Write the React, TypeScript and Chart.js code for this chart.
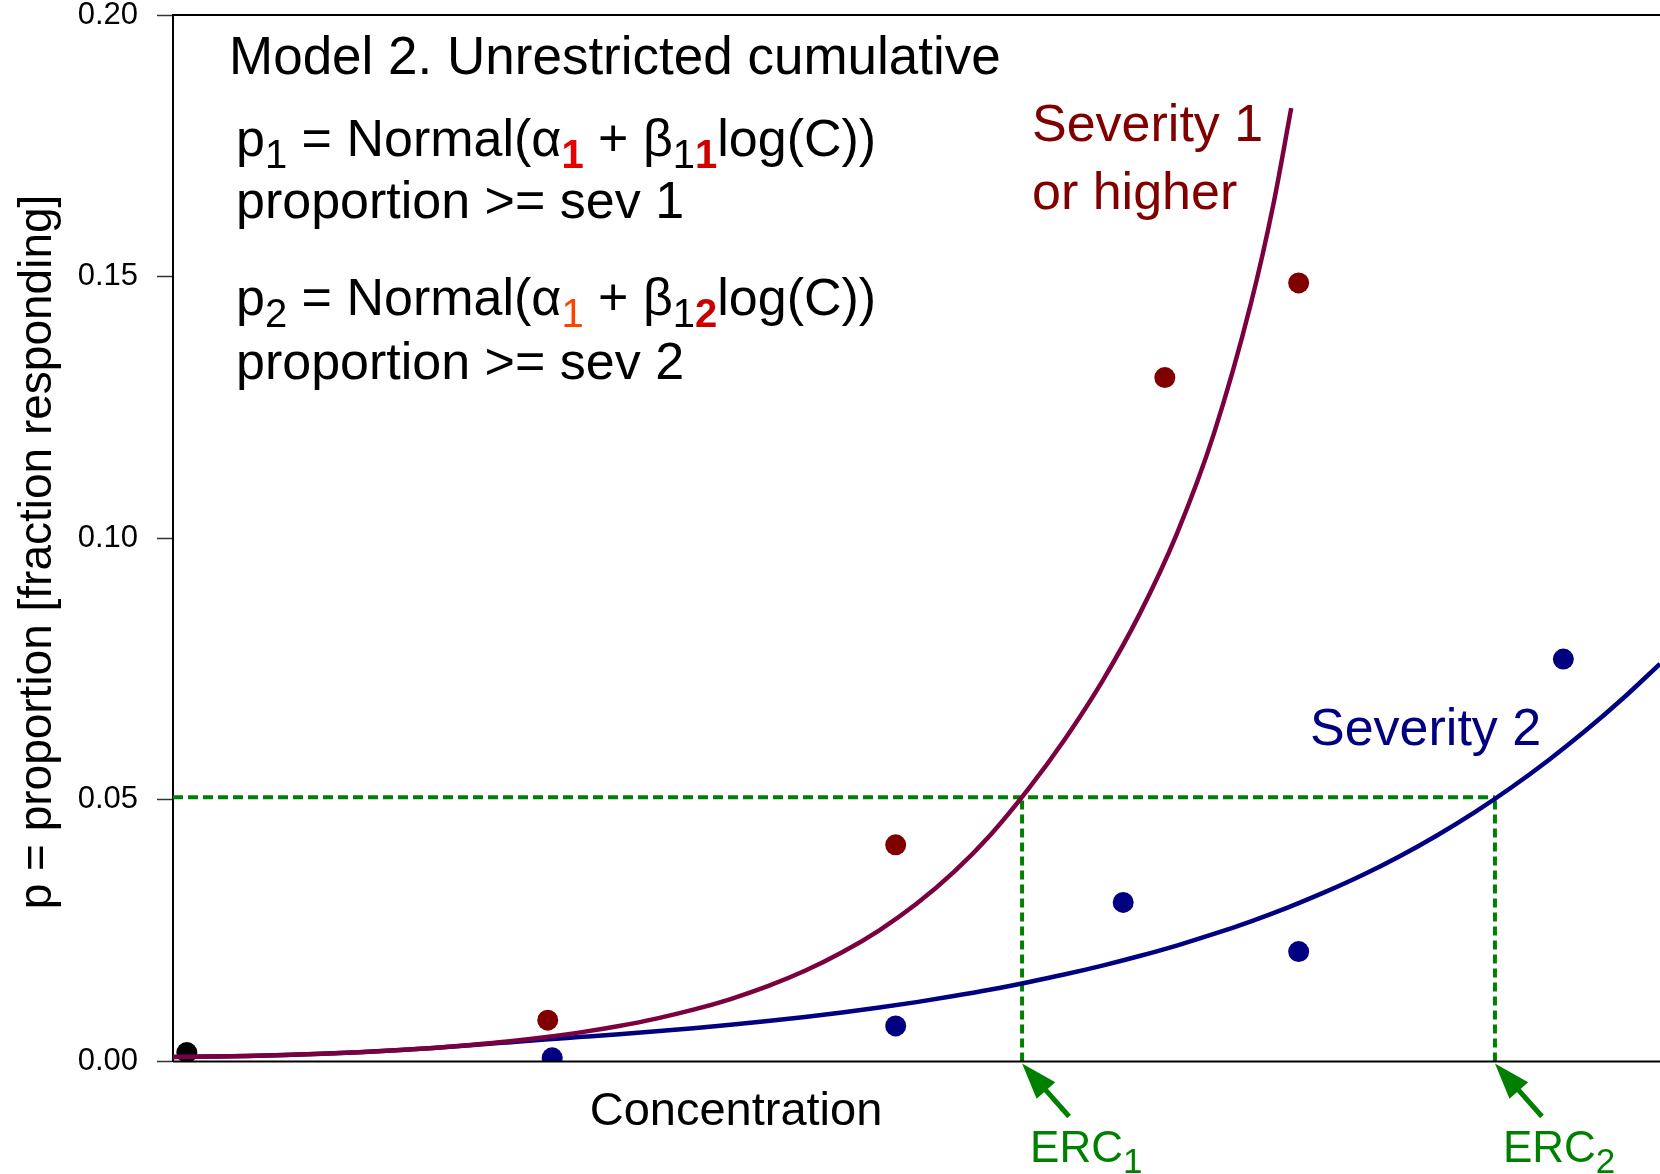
import React, { useEffect, useRef } from 'react';
import { Chart, registerables } from 'chart.js';

Chart.register(...registerables);

const FONT = '"Liberation Sans", Arial, Helvetica, sans-serif';

// ---- data ----
const yTickValues = [0, 0.05, 0.1, 0.15, 0.2];
const xMin = 0;
const xMax = 100;
const threshold = 0.0505;
const ercX = [57.1, 88.9];

// fitted curve: severity 1 or higher
const sev1CurveX = [0, 2.5, 5, 7.5, 10, 12.5, 15, 17.5, 20, 22.5, 25, 27.5, 30, 32.5, 35, 37.5, 40, 42.5, 45, 47.5, 50, 52.5, 55, 57.5, 60, 62.5, 65, 67.5, 70, 72.5, 74, 75.2];
const sev1CurveP = [0.00086, 0.00095, 0.00106, 0.00122, 0.00147, 0.00178, 0.00214, 0.0026, 0.00316, 0.00383, 0.00464, 0.00561, 0.00679, 0.0082, 0.0099, 0.01194, 0.01439, 0.01733, 0.02086, 0.02508, 0.03013, 0.03618, 0.0434, 0.052, 0.0617, 0.0727, 0.0855, 0.1008, 0.12, 0.145, 0.1638, 0.1822];

// fitted curve: severity 2
const sev2CurveX = [0, 2.5, 5, 7.5, 10, 12.5, 15, 17.5, 20, 22.5, 25, 27.5, 30, 32.5, 35, 37.5, 40, 42.5, 45, 47.5, 50, 52.5, 55, 57.5, 60, 62.5, 65, 67.5, 70, 72.5, 75, 77.5, 80, 82.5, 85, 87.5, 90, 92.5, 95, 97.5, 100];
const sev2CurveP = [0.00086, 0.00095, 0.00106, 0.00122, 0.00147, 0.00178, 0.00214, 0.0026, 0.00311, 0.00365, 0.0042, 0.00471, 0.00523, 0.00578, 0.00637, 0.00702, 0.00773, 0.00851, 0.00937, 0.01031, 0.01135, 0.0125, 0.01376, 0.01516, 0.01667, 0.01833, 0.02016, 0.02216, 0.02437, 0.0268, 0.02947, 0.03241, 0.03564, 0.03924, 0.0432, 0.04756, 0.05236, 0.05758, 0.06324, 0.06937, 0.076];

// observed proportions
const controlX = [0.93];
const controlP = [0.0017];
const sev1ObsX = [25.2, 48.6, 66.7, 75.7];
const sev1ObsP = [0.0079, 0.0414, 0.1307, 0.1488];
const sev2ObsX = [25.5, 48.6, 63.9, 75.7, 93.5];
const sev2ObsP = [0.0007, 0.0068, 0.0304, 0.021, 0.0769];

const toXY = (xs: number[], ys: number[]) => xs.map((x, i) => ({ x, y: ys[i] }));

type Run = { text: string; size: number; color?: string; bold?: boolean; dy?: number };

function drawRuns(ctx: CanvasRenderingContext2D, x: number, y: number, runs: Run[]) {
  let cx = x;
  for (const r of runs) {
    ctx.font = `${r.bold ? 'bold ' : ''}${r.size}px ${FONT}`;
    ctx.fillStyle = r.color || '#000';
    ctx.fillText(r.text, cx, y + (r.dy || 0));
    cx += ctx.measureText(r.text).width;
  }
}

function drawArrow(ctx: CanvasRenderingContext2D, tipX: number, tipY: number, dx: number, dy: number, color: string) {
  const len = Math.hypot(dx, dy);
  const ux = dx / len;
  const uy = dy / len;
  const headLen = 36;
  const headHalf = 12.5;
  const bx = tipX + ux * headLen;
  const by = tipY + uy * headLen;
  ctx.save();
  ctx.strokeStyle = color;
  ctx.fillStyle = color;
  ctx.lineWidth = 5;
  ctx.lineCap = 'butt';
  ctx.beginPath();
  ctx.moveTo(bx - ux * 4, by - uy * 4);
  ctx.lineTo(tipX + dx, tipY + dy);
  ctx.stroke();
  ctx.beginPath();
  ctx.moveTo(tipX, tipY);
  ctx.lineTo(bx - uy * headHalf, by + ux * headHalf);
  ctx.lineTo(bx + uy * headHalf, by - ux * headHalf);
  ctx.closePath();
  ctx.fill();
  ctx.restore();
}

const annotations = {
  id: 'annotations',
  afterDraw(chart: any) {
    const ctx: CanvasRenderingContext2D = chart.ctx;
    const { left, right, top, bottom } = chart.chartArea;
    const xs = chart.scales.x;
    ctx.save();
    // frame lines (top and bottom)
    ctx.strokeStyle = '#000';
    ctx.lineWidth = 2;
    ctx.beginPath();
    ctx.moveTo(left, top);
    ctx.lineTo(right, top);
    ctx.moveTo(left, bottom);
    ctx.lineTo(right, bottom);
    ctx.stroke();

    ctx.textAlign = 'left';
    ctx.textBaseline = 'alphabetic';

    // title block
    drawRuns(ctx, 229, 74, [{ text: 'Model 2. Unrestricted cumulative', size: 53 }]);
    drawRuns(ctx, 236, 156, [
      { text: 'p', size: 52 },
      { text: '1', size: 40, dy: 12 },
      { text: ' = Normal(\u03b1', size: 52 },
      { text: '1', size: 40, dy: 12, bold: true, color: '#e80000' },
      { text: ' + \u03b2', size: 52 },
      { text: '1', size: 40, dy: 12 },
      { text: '1', size: 40, dy: 12, bold: true, color: '#d00000' },
      { text: 'log(C))', size: 52 },
    ]);
    drawRuns(ctx, 236, 218, [{ text: 'proportion >= sev 1', size: 52 }]);
    drawRuns(ctx, 236, 315, [
      { text: 'p', size: 52 },
      { text: '2', size: 40, dy: 12 },
      { text: ' = Normal(\u03b1', size: 52 },
      { text: '1', size: 40, dy: 12, color: '#ff4400' },
      { text: ' + \u03b2', size: 52 },
      { text: '1', size: 40, dy: 12 },
      { text: '2', size: 40, dy: 12, bold: true, color: '#c80000' },
      { text: 'log(C))', size: 52 },
    ]);
    drawRuns(ctx, 236, 379, [{ text: 'proportion >= sev 2', size: 52 }]);

    // curve labels
    drawRuns(ctx, 1032, 141, [{ text: 'Severity 1', size: 52, color: '#800000' }]);
    drawRuns(ctx, 1032, 209, [{ text: 'or higher', size: 52, color: '#800000' }]);
    drawRuns(ctx, 1310, 745, [{ text: 'Severity 2', size: 52, color: '#000080' }]);

    // ERC arrows and labels
    const green = '#008000';
    ercX.forEach((v, i) => {
      const px = xs.getPixelForValue(v);
      drawArrow(ctx, px, bottom + 2, 47, 53, green);
      drawRuns(ctx, px + 8, 1162, [
        { text: 'ERC', size: 44, color: green },
        { text: String(i + 1), size: 35, dy: 11, color: green },
      ]);
    });

    // axis titles
    ctx.fillStyle = '#000';
    ctx.font = `47px ${FONT}`;
    ctx.textAlign = 'center';
    ctx.fillText('Concentration', 736, 1125);

    ctx.translate(51, 552);
    ctx.rotate(-Math.PI / 2);
    ctx.font = `46px ${FONT}`;
    ctx.fillText('p = proportion [fraction responding]', 0, 0);
    ctx.restore();
  },
};

export default function App() {
  const canvasRef = useRef<HTMLCanvasElement | null>(null);

  useEffect(() => {
    const canvas = canvasRef.current;
    if (!canvas) return;
    const chart = new Chart(canvas, {
      type: 'line',
      data: {
        datasets: [
          {
            label: 'Severity 1 or higher (fit)',
            data: toXY(sev1CurveX, sev1CurveP),
            borderColor: '#7a0040',
            borderWidth: 4.5,
            pointRadius: 0,
            cubicInterpolationMode: 'monotone',
            fill: false,
            order: 0,
          },
          {
            label: 'Severity 2 (fit)',
            data: toXY(sev2CurveX, sev2CurveP),
            borderColor: '#000080',
            borderWidth: 4.5,
            pointRadius: 0,
            cubicInterpolationMode: 'monotone',
            fill: false,
            order: 1,
          },
          {
            label: 'threshold',
            data: [
              { x: xMin, y: threshold },
              { x: ercX[1], y: threshold },
            ],
            borderColor: '#008000',
            borderWidth: 4,
            borderDash: [10, 5],
            pointRadius: 0,
            fill: false,
            order: 2,
          },
          {
            label: 'ERC1',
            data: [
              { x: ercX[0], y: 0 },
              { x: ercX[0], y: threshold },
            ],
            borderColor: '#008000',
            borderWidth: 4,
            borderDash: [9, 5],
            pointRadius: 0,
            fill: false,
            order: 2,
          },
          {
            label: 'ERC2',
            data: [
              { x: ercX[1], y: 0 },
              { x: ercX[1], y: threshold },
            ],
            borderColor: '#008000',
            borderWidth: 4,
            borderDash: [9, 5],
            pointRadius: 0,
            fill: false,
            order: 2,
          },
          {
            label: 'control',
            data: toXY(controlX, controlP),
            showLine: false,
            pointRadius: 10.5,
            pointBorderWidth: 0,
            pointBackgroundColor: '#000000',
            borderColor: '#000000',
            order: 3,
          },
          {
            label: 'Severity 1 observed',
            data: toXY(sev1ObsX, sev1ObsP),
            showLine: false,
            pointRadius: 10.5,
            pointBorderWidth: 0,
            pointBackgroundColor: '#800000',
            borderColor: '#800000',
            order: 3,
          },
          {
            label: 'Severity 2 observed',
            data: toXY(sev2ObsX, sev2ObsP),
            showLine: false,
            pointRadius: 10.5,
            pointBorderWidth: 0,
            pointBackgroundColor: '#000080',
            borderColor: '#000080',
            order: 3,
          },
        ],
      },
      options: {
        animation: false,
        responsive: false,
        layout: { autoPadding: false, padding: { top: 15, bottom: 112.5, left: 0, right: 0 } },
        plugins: {
          legend: { display: false },
          tooltip: { enabled: false },
        },
        scales: {
          x: { type: 'linear', min: xMin, max: xMax, display: false },
          y: {
            type: 'linear',
            min: 0,
            max: 0.2,
            afterBuildTicks: (scale: any) => {
              scale.ticks = yTickValues.map((v) => ({ value: v }));
            },
            afterFit: (scale: any) => {
              scale.width = 173;
              scale.paddingTop = 0;
              scale.paddingBottom = 0;
            },
            ticks: {
              callback: (v: any) => Number(v).toFixed(2),
              font: { family: FONT, size: 31, lineHeight: 1 },
              color: '#000',
              padding: 19,
            },
            grid: {
              drawOnChartArea: false,
              drawTicks: true,
              tickLength: 16,
              tickColor: '#333',
              tickWidth: 1.5,
              color: '#333',
            },
            border: { display: true, color: '#000', width: 2 },
          },
        },
      } as any,
      plugins: [annotations],
    });
    return () => chart.destroy();
  }, []);

  return (
    <div style={{ position: 'fixed', left: 0, top: 0, width: 1660, height: 1174, background: '#fff' }}>
      <canvas ref={canvasRef} width={1660} height={1174} style={{ display: 'block' }} />
    </div>
  );
}
